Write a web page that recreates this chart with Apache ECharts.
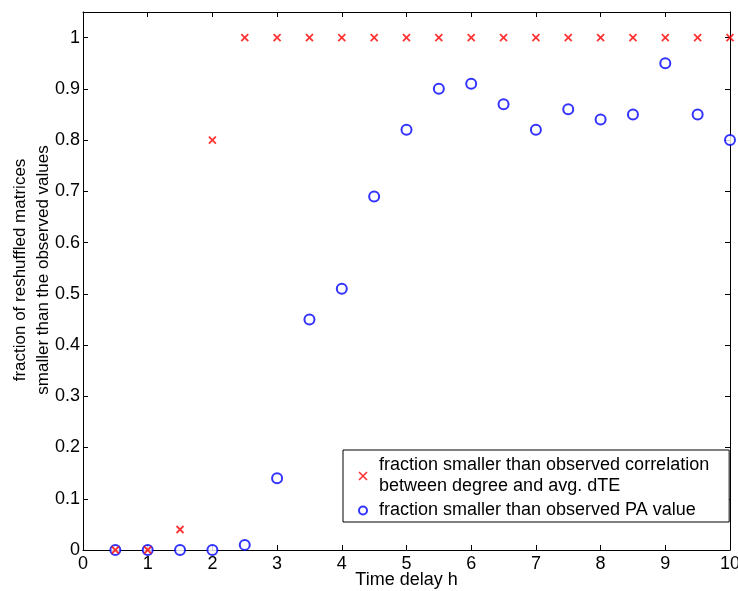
<!DOCTYPE html>
<html><head><meta charset="utf-8">
<script src="https://cdn.jsdelivr.net/npm/echarts@6/dist/echarts.min.js"></script>
<style>html,body{margin:0;padding:0;background:#fff}#c{width:738px;height:591px}</style>
</head><body><div id="c"></div>
<script>
const delays = [0.5,1,1.5,2,2.5,3,3.5,4,4.5,5,5.5,6,6.5,7,7.5,8,8.5,9,9.5,10];
const corrFraction = [0,0,0.04,0.8,1,1,1,1,1,1,1,1,1,1,1,1,1,1,1,1];
const paFraction = [0,0,0,0,0.01,0.14,0.45,0.51,0.69,0.82,0.90,0.91,0.87,0.82,0.86,0.84,0.85,0.95,0.85,0.80];
const xTicks = [0,1,2,3,4,5,6,7,8,9,10];
const yTicks = [0,0.1,0.2,0.3,0.4,0.5,0.6,0.7,0.8,0.9,1];
const corrName = 'fraction smaller than observed correlation\nbetween degree and avg. dTE';
const paName = 'fraction smaller than observed PA value';

const crossPath = 'path://M0,0L10,10M10,0L0,10';
const font = 'Liberation Sans';
const chart = echarts.init(document.getElementById('c'));
const axisLine = {show:true, onZero:false, lineStyle:{color:'#000', width:1}};
const tick = {show:true, inside:true, length:5, lineStyle:{color:'#000'}};
chart.setOption({
  animation:false,
  textStyle:{fontFamily:font},
  grid:{left:83, right:8, top:12, bottom:41, outerBoundsMode:'none', containLabel:false},
  xAxis:[{
    type:'value', min:0, max:10, interval:1, position:'bottom',
    axisLine:axisLine, axisTick:tick,
    splitLine:{show:false},
    axisLabel:{color:'#000', fontSize:18, margin:5, fontFamily:font, formatter:v=>xTicks.includes(v)?String(v):''},
    name:'Time delay h', nameLocation:'middle', nameGap:21, nameMoveOverlap:false,
    nameTextStyle:{color:'#000', fontSize:18, fontFamily:font}
  },{
    type:'value', min:0, max:10, interval:1, position:'top',
    axisLine:axisLine, axisTick:tick,
    axisLabel:{show:false}, splitLine:{show:false}
  }],
  yAxis:[{
    type:'value', min:0, max:1.05, interval:0.1, position:'left',
    axisLine:axisLine, axisTick:tick,
    splitLine:{show:false},
    axisLabel:{color:'#000', fontSize:18, margin:3, fontFamily:font, showMaxLabel:false,
      formatter:v=>{const r=Math.round(v*100)/100; return yTicks.includes(r)?String(r):'';}},
    name:'fraction of reshuffled matrices\nsmaller than the observed values',
    nameLocation:'middle', nameGap:28, nameMoveOverlap:false,
    nameTextStyle:{color:'#000', fontSize:17, lineHeight:23, fontFamily:font, padding:[0,0,0,22]}
  },{
    type:'value', min:0, max:1.05, interval:0.1, position:'right',
    axisLine:axisLine, axisTick:tick,
    axisLabel:{show:false}, splitLine:{show:false}
  }],
  legend:{
    orient:'vertical', left:343, top:450,
    backgroundColor:'#fff', borderColor:'#000', borderWidth:1,
    padding:[5,20,1,15], itemGap:3, itemWidth:8, itemHeight:8,
    textStyle:{color:'#000', fontSize:18, lineHeight:21, fontFamily:font, padding:[0,0,0,7]},
    data:[
      {name:corrName, icon:crossPath, itemStyle:{color:'transparent', borderColor:'#ff0000', borderWidth:1.6}},
      {name:paName, icon:'emptyCircle', itemStyle:{color:'#0000ff', borderColor:'#0000ff', borderWidth:1.5}}
    ]
  },
  series:[
    {name:corrName, type:'scatter', clip:false, symbol:crossPath, symbolSize:7,
     itemStyle:{color:'transparent', borderColor:'#ff0000', borderWidth:1.8},
     data:delays.map((d,i)=>[d,corrFraction[i]]), z:3},
    {name:paName, type:'scatter', clip:false, symbol:'emptyCircle', symbolSize:10,
     itemStyle:{color:'#0000ff', borderColor:'#0000ff', borderWidth:1.6},
     data:delays.map((d,i)=>[d,paFraction[i]]), z:2}
  ]
});
</script></body></html>
